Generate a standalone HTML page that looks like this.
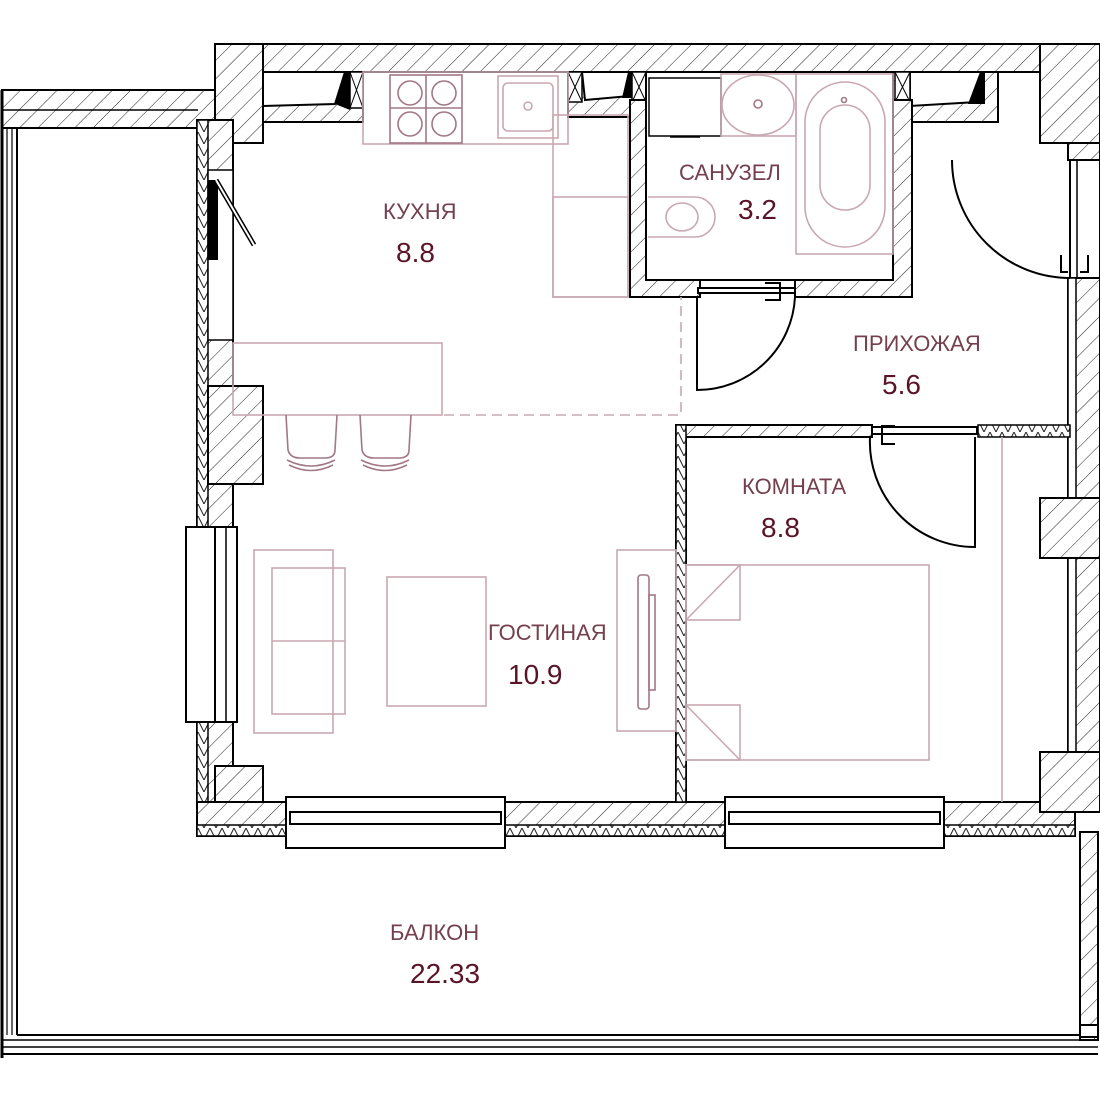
<!DOCTYPE html>
<html><head><meta charset="utf-8"><style>
html,body{margin:0;padding:0;background:#fff;}
svg{display:block;}
text{font-family:"Liberation Sans",sans-serif;}
.lb{fill:#74404f;font-size:22px;}
.nm{fill:#5a1428;font-size:28px;}
.f{fill:none;stroke:#c9a8b1;stroke-width:1.6;}
.fd{fill:none;stroke:#a27886;stroke-width:1.6;}
.k{fill:none;stroke:#000;stroke-width:2;}
.h{fill:url(#hat);stroke:#000;stroke-width:2;}
.hs{fill:url(#hat2);stroke:#000;stroke-width:1.5;}
.w{fill:#fff;stroke:#000;stroke-width:2;}
</style></head><body>
<svg width="1100" height="1100" viewBox="0 0 1100 1100" xmlns="http://www.w3.org/2000/svg">
<defs>
<pattern id="hat" width="13" height="13" patternUnits="userSpaceOnUse" patternTransform="rotate(45)">
<rect width="13" height="13" fill="#fff"/><line x1="0" y1="0" x2="0" y2="13" stroke="#222" stroke-width="1"/></pattern>
<pattern id="hat2" width="12" height="12" patternUnits="userSpaceOnUse">
<rect width="12" height="12" fill="#fff"/><path d="M0 12 L6 0 L12 12" fill="none" stroke="#222" stroke-width="1"/></pattern>
</defs>
<rect width="1100" height="1100" fill="#fff"/>

<!-- Balcony -->
<rect x="2" y="90" width="213" height="38" class="h"/>
<line x1="2" y1="110" x2="198" y2="110" stroke="#000" stroke-width="1.5"/>
<line x1="2" y1="90" x2="2" y2="1058" stroke="#000" stroke-width="3"/>
<line x1="7" y1="128" x2="7" y2="1035" stroke="#000" stroke-width="1.2"/>
<line x1="12" y1="128" x2="12" y2="1035" stroke="#000" stroke-width="1.2"/>
<line x1="17" y1="128" x2="17" y2="1035" stroke="#000" stroke-width="2"/>
<line x1="17" y1="1035" x2="1080" y2="1035" stroke="#000" stroke-width="2"/>
<line x1="2" y1="1040" x2="1098" y2="1040" stroke="#000" stroke-width="1.5"/>
<line x1="2" y1="1047" x2="1098" y2="1047" stroke="#000" stroke-width="1.5"/>
<line x1="2" y1="1054" x2="1098" y2="1054" stroke="#000" stroke-width="2"/>
<rect x="1080" y="832" width="18" height="208" class="h"/>
<rect x="1080" y="1025" width="18" height="12" class="w"/>

<!-- Top wall -->
<rect x="215" y="44" width="885" height="28" class="h"/>
<rect x="215" y="44" width="48" height="99" class="h"/>
<rect x="1040" y="44" width="60" height="99" class="h"/>
<rect x="263" y="72" width="100" height="50" class="h"/>
<path d="M263 72 L345 72 L335 104 L263 106 Z" fill="#fff" stroke="#000" stroke-width="2"/>
<path d="M345 72 L350 72 L350 110 L335 104 Z" fill="#000"/>
<rect x="350" y="72" width="13" height="36" fill="#fff" stroke="#000" stroke-width="1.5"/>
<path d="M350 72 L363 108 M363 72 L350 108" stroke="#000" stroke-width="1"/>
<rect x="568" y="72" width="78" height="45" class="h"/>
<path d="M582 72 L632 72 L630 96 L585 100 Z" fill="#fff" stroke="#000" stroke-width="2"/>
<path d="M628 72 L634 72 L634 98 L622 98 Z" fill="#000"/>
<rect x="568" y="72" width="14" height="30" fill="#fff" stroke="#000" stroke-width="1.5"/>
<path d="M568 72 L582 102 M582 72 L568 102" stroke="#000" stroke-width="1"/>
<rect x="632" y="72" width="14" height="30" fill="#fff" stroke="#000" stroke-width="1.5"/>
<path d="M632 72 L646 102 M646 72 L632 102" stroke="#000" stroke-width="1"/>
<rect x="893" y="72" width="105" height="50" class="h"/>
<path d="M910 72 L982 72 L977 102 L910 106 Z" fill="#fff" stroke="#000" stroke-width="2"/>
<path d="M980 72 L985 72 L985 104 L968 104 Z" fill="#000"/>
<rect x="895" y="72" width="15" height="30" fill="#fff" stroke="#000" stroke-width="1.5"/>
<path d="M895 72 L910 102 M910 72 L895 102" stroke="#000" stroke-width="1"/>

<!-- Left wall -->
<rect x="197" y="120" width="36" height="715" class="h"/>
<rect x="197" y="120" width="11" height="715" class="hs"/>
<rect x="208" y="170" width="25" height="170" fill="#fff" stroke="#000" stroke-width="1.5"/>
<rect x="208" y="180" width="10" height="80" fill="#000"/>
<line x1="216" y1="180" x2="254" y2="245" stroke="#000" stroke-width="5"/>
<line x1="216" y1="180" x2="254" y2="245" stroke="#fff" stroke-width="2"/>
<rect x="208" y="386" width="55" height="98" class="h"/>
<rect x="186" y="527" width="51" height="195" class="w"/>
<line x1="215" y1="527" x2="215" y2="722" stroke="#000" stroke-width="2"/>
<line x1="226" y1="527" x2="226" y2="722" stroke="#000" stroke-width="1.5"/>
<rect x="215" y="766" width="48" height="46" class="h"/>

<!-- Bottom wall -->
<rect x="197" y="802" width="878" height="34" class="h"/>
<rect x="197" y="825" width="878" height="11" class="hs"/>
<rect x="286" y="797" width="219" height="51" class="w"/>
<rect x="290" y="812" width="211" height="12" class="w"/>
<rect x="725" y="797" width="219" height="51" class="w"/>
<rect x="729" y="812" width="211" height="12" class="w"/>

<!-- Right wall -->
<rect x="1068" y="143" width="32" height="17" class="h"/>
<rect x="1070" y="160" width="30" height="118" class="w"/>
<line x1="1077" y1="160" x2="1077" y2="278" stroke="#000" stroke-width="1.5"/>
<rect x="1068" y="278" width="32" height="520" class="h"/>
<rect x="1068" y="278" width="8" height="520" fill="#fff" stroke="#000" stroke-width="1.5"/>
<rect x="1040" y="498" width="60" height="60" class="h"/>
<rect x="1040" y="752" width="60" height="60" class="h"/>
<path d="M1061 255 L1061 272 L1068 272 M1088 255 L1088 272 L1080 272" class="k" stroke-width="1.5"/>
<path d="M952 160 A118 118 0 0 0 1070 278" class="k" stroke-width="1.6"/>

<!-- Bathroom walls -->
<path d="M630 100 L646 100 L646 280 L700 280 L700 297 L630 297 Z" class="h"/>
<path d="M795 280 L893 280 L893 100 L912 100 L912 297 L795 297 Z" class="h"/>
<rect x="646" y="72" width="247" height="208" fill="#fff" stroke="#000" stroke-width="2"/>
<rect x="698" y="288" width="97" height="5" class="w"/>
<path d="M765 283 L780 283 L780 300 L765 300" class="k" stroke-width="1.5"/>
<path d="M697 297 L697 390 A98 98 0 0 0 795 297" class="k" stroke-width="1.6"/>

<!-- Bedroom walls -->
<path d="M676 425 L872 425 L872 437 L686 437 L686 802 L676 802 Z" class="h"/>
<rect x="676" y="425" width="10" height="377" class="hs"/>
<rect x="978" y="425" width="92" height="12" class="hs"/>
<rect x="872" y="427" width="105" height="7" class="w"/>
<path d="M895 426 L882 426 L882 444 L895 444" class="k" stroke-width="1.5"/>
<path d="M975 437 L975 547 A105 105 0 0 1 870 437" class="k" stroke-width="1.6"/>

<!-- Dashed -->
<path d="M444 415 L681 415 L681 297" fill="none" stroke="#c9a8b1" stroke-width="1.6" stroke-dasharray="10 6"/>

<!-- Kitchen furniture -->
<rect x="363" y="72" width="205" height="72" class="f"/>
<rect x="390" y="75" width="72" height="68" class="fd"/>
<circle cx="410" cy="93" r="12" class="fd"/><circle cx="444" cy="93" r="12" class="fd"/>
<circle cx="410" cy="124" r="12" class="fd"/><circle cx="444" cy="124" r="12" class="fd"/>
<line x1="426" y1="75" x2="426" y2="143" class="fd"/><line x1="390" y1="108" x2="462" y2="108" class="fd"/>
<rect x="498" y="76" width="60" height="62" class="f"/>
<rect x="503" y="83" width="50" height="48" rx="5" class="f"/>
<circle cx="528" cy="106" r="4" class="f"/>
<rect x="553" y="115" width="75" height="182" class="f"/>
<rect x="553" y="197" width="75" height="100" class="f"/>
<rect x="233" y="343" width="209" height="72" class="f"/>
<path d="M286 415 L288 450 Q290 458 300 458 L325 458 Q335 458 335 450 L337 415" class="fd"/>
<path d="M287 460 Q311 472 335 460 M289 465 Q311 476 333 465" class="fd"/>
<path d="M360 415 L362 450 Q364 458 374 458 L399 458 Q409 458 409 450 L411 415" class="fd"/>
<path d="M361 460 Q385 472 409 460 M363 465 Q385 476 407 465" class="fd"/>

<!-- Living furniture -->
<rect x="254" y="550" width="79" height="183" class="f"/>
<rect x="272" y="568" width="73" height="146" class="f"/>
<line x1="272" y1="641" x2="345" y2="641" class="f"/>
<rect x="387" y="577" width="99" height="129" class="f"/>
<rect x="617" y="550" width="59" height="181" class="f"/>
<rect x="638" y="575" width="11" height="134" rx="3" class="fd"/>
<rect x="649" y="595" width="6" height="95" class="fd"/>

<!-- Bedroom furniture -->
<rect x="686" y="565" width="243" height="195" class="f"/>
<rect x="686" y="565" width="54" height="55" class="f"/><line x1="686" y1="620" x2="740" y2="565" class="f"/>
<rect x="686" y="705" width="54" height="55" class="f"/><line x1="686" y1="705" x2="740" y2="760" class="f"/>
<line x1="1002" y1="437" x2="1002" y2="802" class="f"/>

<!-- Bathroom fixtures -->
<rect x="649" y="78" width="72" height="58" fill="#fff" stroke="#000" stroke-width="1.5"/>
<line x1="670" y1="137" x2="700" y2="137" stroke="#000" stroke-width="1.5"/>
<rect x="721" y="74" width="75" height="62" class="f"/>
<ellipse cx="758" cy="105" rx="36" ry="30" class="f"/>
<circle cx="758" cy="104" r="4" class="fd"/>
<rect x="796" y="74" width="97" height="180" class="f"/>
<rect x="805" y="82" width="80" height="165" rx="40" class="f"/>
<rect x="820" y="105" width="50" height="105" rx="25" class="f"/>
<circle cx="844" cy="100" r="2.5" class="fd"/>
<path d="M648 197 L695 197 A20 20 0 0 1 695 237 L648 237" class="f"/>
<ellipse cx="682" cy="217" rx="16" ry="14" class="f"/>

<!-- Labels -->
<text x="383" y="219" class="lb">КУХНЯ</text>
<text x="396" y="262" class="nm">8.8</text>
<text x="679" y="180" class="lb">САНУЗЕЛ</text>
<text x="738" y="219" class="nm">3.2</text>
<text x="853" y="351" class="lb">ПРИХОЖАЯ</text>
<text x="882" y="394" class="nm">5.6</text>
<text x="742" y="494" class="lb">КОМНАТА</text>
<text x="761" y="537" class="nm">8.8</text>
<text x="488" y="640" class="lb">ГОСТИНАЯ</text>
<text x="508" y="684" class="nm">10.9</text>
<text x="390" y="940" class="lb">БАЛКОН</text>
<text x="410" y="983" class="nm">22.33</text>
</svg>
</body></html>
